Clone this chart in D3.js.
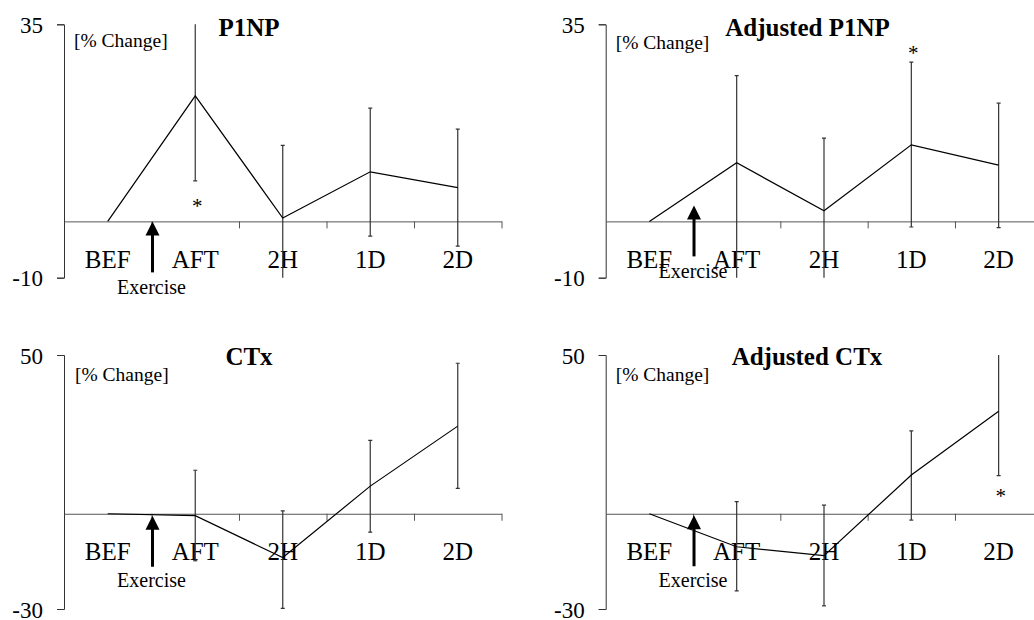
<!DOCTYPE html>
<html>
<head>
<meta charset="utf-8">
<script src="https://cdn.jsdelivr.net/npm/d3@7"></script>
<style>
  body { margin: 0; background: #fff; }
  svg { display: block; }
</style>
</head>
<body>
<svg id="chart" width="1034" height="620"></svg>
<script>
const categories = ["BEF", "AFT", "2H", "1D", "2D"];

// P1NP, % change (mean, upper and lower end of error bar)
const p1npMean = [0, 22.3, 0.6, 8.8, 6.0];
const p1npHi = [null, 37.4, 13.5, 20.1, 16.4];
const p1npLo = [null, 7.2, -12.3, -2.6, -4.4];

// Adjusted P1NP
const adjP1npMean = [0, 10.4, 1.9, 13.6, 10.0];
const adjP1npHi = [null, 25.9, 14.8, 28.3, 21.0];
const adjP1npLo = [null, -12.0, -12.0, -1.0, -1.1];

// CTx
const ctxMean = [0, -0.6, -13.8, 8.7, 27.6];
const ctxHi = [null, 13.7, 0.9, 23.1, 47.4];
const ctxLo = [null, -14.8, -29.8, -5.8, 8.0];

// Adjusted CTx
const adjCtxMean = [0, -10.4, -13.2, 12.2, 32.3];
const adjCtxHi = [null, 3.8, 2.7, 26.1, 53.0];
const adjCtxLo = [null, -24.3, -29.0, -2.0, 12.0];

const font = "'Liberation Serif', 'Times New Roman', Times, serif";
const svg = d3.select("#chart");

const panels = [
    { title: "P1NP", mean: p1npMean, hi: p1npHi, lo: p1npLo, domain: [-10, 35],
      star: { cat: "AFT", v: 3.3 },
      x0: 64, x1: 501.5, top: 24.3, bottom: 277.7,
      titleX: 249, titleY: 36, unitX: 74, unitY: 46.7,
      arrow: [0, 51, 72.5] },
    { title: "Adjusted P1NP", mean: adjP1npMean, hi: adjP1npHi, lo: adjP1npLo, domain: [-10, 35],
      star: { cat: "1D", v: 30.4 },
      x0: 605.7, x1: 1042.3, top: 24.3, bottom: 277.7,
      titleX: 807.5, titleY: 36, unitX: 615.7, unitY: 49.3,
      arrow: [-16, 35, 56.5] },
    { title: "CTx", mean: ctxMean, hi: ctxHi, lo: ctxLo, domain: [-30, 50],
      star: null,
      x0: 64, x1: 501.5, top: 355, bottom: 609,
      titleX: 249, titleY: 365, unitX: 75, unitY: 381,
      arrow: [2, 53, 73] },
    { title: "Adjusted CTx", mean: adjCtxMean, hi: adjCtxHi, lo: adjCtxLo, domain: [-30, 50],
      star: { cat: "2D", v: 6.6 },
      x0: 605.7, x1: 1042.3, top: 355, bottom: 609,
      titleX: 807, titleY: 365, unitX: 615.7, unitY: 381,
      arrow: [1.5, 52.5, 73] }
];

panels.forEach((p, pi) => {
    const x = d3.scaleBand().domain(categories).range([p.x0, p.x1]).padding(0);
    const xi = d3.scaleLinear().domain([0, categories.length]).range([p.x0, p.x1]);
    const y = d3.scaleLinear().domain(p.domain).range([p.bottom, p.top]);
    const cx = d => x(d) + x.bandwidth() / 2;
    const g = svg.append("g");

    // clip for error bars
    const clipId = "clip" + pi;
    svg.append("clipPath").attr("id", clipId)
        .append("rect")
        .attr("x", p.x0 - 5).attr("y", p.top)
        .attr("width", p.x1 - p.x0 + 10).attr("height", p.bottom - p.top);

    // y axis
    const yAxis = g.append("g")
        .attr("transform", "translate(" + p.x0 + ",0)")
        .call(d3.axisLeft(y).tickValues(p.domain).tickSize(7).tickSizeOuter(7)
            .tickPadding(14).tickFormat(d => String(d)));
    yAxis.attr("color", "#333");
    yAxis.selectAll("text")
        .attr("fill", "#000")
        .attr("font-family", font)
        .attr("font-size", 23)
        .attr("dy", "0.36em");

    // x axis at zero with ticks on band boundaries
    const xAxis = g.append("g")
        .attr("transform", "translate(0," + y(0) + ")")
        .call(d3.axisBottom(xi).tickValues(d3.range(1, categories.length + 1))
            .tickSize(7).tickSizeOuter(0).tickFormat(""));
    xAxis.attr("color", "#555");

    // category labels
    g.selectAll("text.cat").data(categories)
        .join("text")
        .attr("class", "cat")
        .attr("x", d => cx(d))
        .attr("y", y(0) + 46.5)
        .attr("text-anchor", "middle")
        .attr("font-family", font)
        .attr("font-size", 25)
        .text(d => d);

    // titles
    g.append("text")
        .attr("x", p.titleX).attr("y", p.titleY)
        .attr("text-anchor", "middle")
        .attr("font-family", font)
        .attr("font-weight", "bold")
        .attr("font-size", 25)
        .text(p.title);
    g.append("text")
        .attr("x", p.unitX).attr("y", p.unitY)
        .attr("font-family", font)
        .attr("font-size", 19.5)
        .text("[% Change]");

    // error bars
    const bars = categories.map((c, i) => ({ c: c, hi: p.hi[i], lo: p.lo[i] }))
        .filter(d => d.hi !== null);
    const eb = g.append("g").attr("clip-path", "url(#" + clipId + ")")
        .attr("stroke", "#333").attr("stroke-width", 1.2);
    eb.selectAll("line.bar").data(bars)
        .join("line")
        .attr("class", "bar")
        .attr("x1", d => cx(d.c)).attr("x2", d => cx(d.c))
        .attr("y1", d => y(d.hi)).attr("y2", d => y(d.lo));
    const caps = [];
    bars.forEach(d => {
        if (d.hi <= p.domain[1]) caps.push({ c: d.c, v: d.hi });
        if (d.lo >= p.domain[0]) caps.push({ c: d.c, v: d.lo });
    });
    eb.selectAll("line.cap").data(caps)
        .join("line")
        .attr("class", "cap")
        .attr("x1", d => cx(d.c) - 2).attr("x2", d => cx(d.c) + 2)
        .attr("y1", d => y(d.v)).attr("y2", d => y(d.v));

    // mean line
    const line = d3.line().x(d => cx(d.c)).y(d => y(d.v));
    g.append("path")
        .datum(categories.map((c, i) => ({ c: c, v: p.mean[i] })))
        .attr("d", line)
        .attr("fill", "none")
        .attr("stroke", "#000")
        .attr("stroke-width", 1.2);

    // significance star
    if (p.star) {
        g.append("text")
            .attr("x", cx(p.star.cat) + 2)
            .attr("y", y(p.star.v) + 10)
            .attr("text-anchor", "middle")
            .attr("font-family", font)
            .attr("font-size", 21)
            .text("*");
    }

    // exercise arrow between BEF and AFT
    const ax = xi(1) + 1;
    const tip = y(0) + p.arrow[0];
    const base = y(0) + p.arrow[1];
    g.append("line")
        .attr("x1", ax).attr("x2", ax)
        .attr("y1", tip + 10).attr("y2", base)
        .attr("stroke", "#000").attr("stroke-width", 3);
    g.append("path")
        .attr("d", "M" + ax + "," + tip + "L" + (ax + 7) + "," + (tip + 14) + "L" + (ax - 7) + "," + (tip + 14) + "Z")
        .attr("fill", "#000");
    g.append("text")
        .attr("x", ax - 1).attr("y", y(0) + p.arrow[2])
        .attr("text-anchor", "middle")
        .attr("font-family", font)
        .attr("font-size", 20)
        .text("Exercise");
});
</script>
</body>
</html>
